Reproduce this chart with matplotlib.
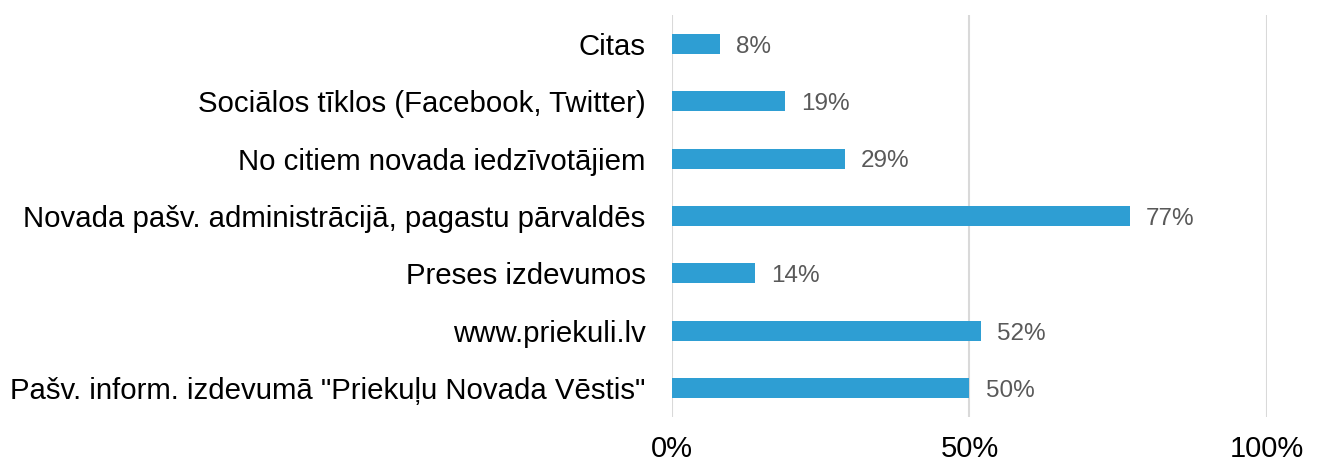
import matplotlib.pyplot as plt

categories = [
    'Pašv. inform. izdevumā "Priekuļu Novada Vēstis"',
    "www.priekuli.lv",
    "Preses izdevumos",
    "Novada pašv. administrācijā, pagastu pārvaldēs",
    "No citiem novada iedzīvotājiem",
    "Sociālos tīklos (Facebook, Twitter)",
    "Citas",
]
values = [50, 52, 14, 77, 29, 19, 8]
xticks = [0, 50, 100]
xtick_labels = ["0%", "50%", "100%"]

plt.rcParams["font.family"] = ["Liberation Sans", "DejaVu Sans"]

fig = plt.figure(figsize=(13.21, 4.62), dpi=100)
ax = fig.add_axes([0.5087, 0.0974, 0.4504, 0.8701])

ypos = list(range(len(categories)))
ax.barh(ypos, values, height=0.35, color="#2E9ED3", zorder=3)
for y, v in zip(ypos, values):
    ax.text(v + 2.7, y - 0.05, f"{v}%", va="center", ha="left", fontsize=17.5, color="#595959")

ax.set_xlim(0, 100)
ax.set_ylim(-0.5, len(categories) - 0.5)
ax.set_xticks(xticks)
ax.set_xticklabels(xtick_labels, fontsize=21)
ax.set_yticks(ypos)
ax.set_yticklabels(categories, fontsize=21.2, va="center_baseline")
ax.tick_params(axis="x", length=0, pad=13)
ax.tick_params(axis="y", length=0, pad=19)
ax.grid(axis="x", color="#D9D9D9", linewidth=1.5, zorder=0)
for s in ax.spines.values():
    s.set_visible(False)

fig.savefig("out.png", dpi=100)
